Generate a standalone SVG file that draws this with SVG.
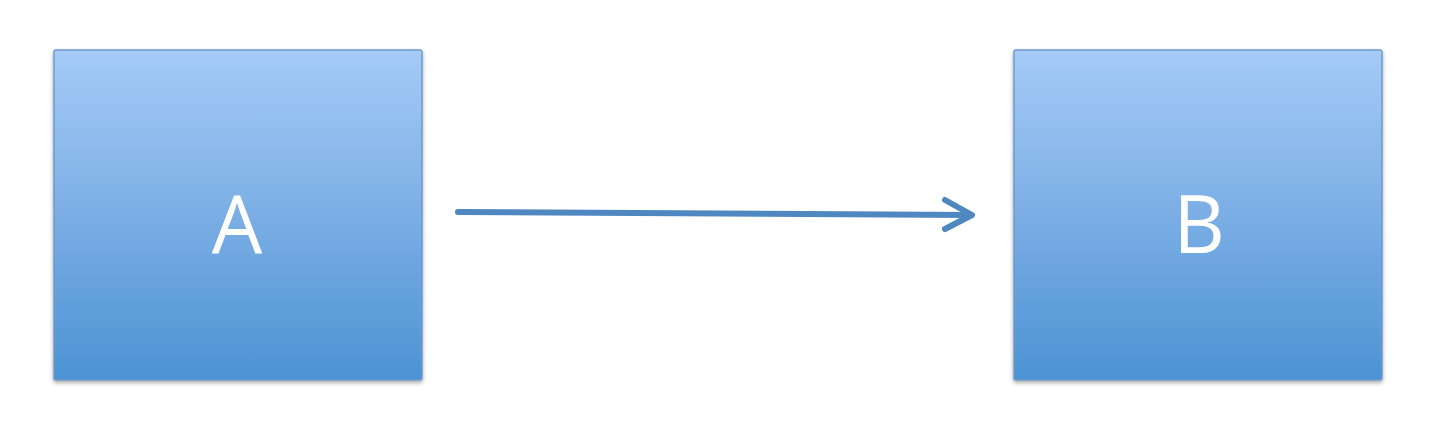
<svg xmlns="http://www.w3.org/2000/svg" width="1440" height="437" viewBox="0 0 1440 437">
<defs>
<linearGradient id="boxfill" x1="0" y1="0" x2="0" y2="1">
<stop offset="0" stop-color="#A5CBF6"/>
<stop offset="0.5" stop-color="#7BAEE5"/>
<stop offset="1" stop-color="#4B93D3"/>
</linearGradient>
<filter id="shadow" x="-5%" y="-5%" width="110%" height="115%">
<feGaussianBlur in="SourceAlpha" stdDeviation="2"/>
<feOffset dx="0" dy="2" result="b"/>
<feComponentTransfer><feFuncA type="linear" slope="0.35"/></feComponentTransfer>
<feMerge><feMergeNode/><feMergeNode in="SourceGraphic"/></feMerge>
</filter>
</defs>
<style>
.box{fill:url(#boxfill);stroke:#6C9BCB;stroke-width:1.5;filter:url(#shadow)}
.lbl{font-family:"Open Sans","Liberation Sans",sans-serif;font-size:80px;fill:#FFFFFF;text-anchor:middle}
.conn{fill:none;stroke:#4F88C0;stroke-width:6;stroke-linecap:round;stroke-linejoin:round}
</style>
<rect width="1440" height="437" fill="#FFFFFF"/>
<g id="nodeA">
<rect class="box" x="54" y="50" width="368" height="330" rx="2"/>
<text class="lbl" x="237" y="253">A</text>
</g>
<g id="nodeB">
<rect class="box" x="1014" y="50" width="368" height="330" rx="2"/>
<text class="lbl" x="1199" y="253">B</text>
</g>
<g id="connectors">
<path class="conn" d="M458 212 L971 215"/>
<path class="conn" d="M945 200 L972 215 L945 229"/>
</g>
</svg>
